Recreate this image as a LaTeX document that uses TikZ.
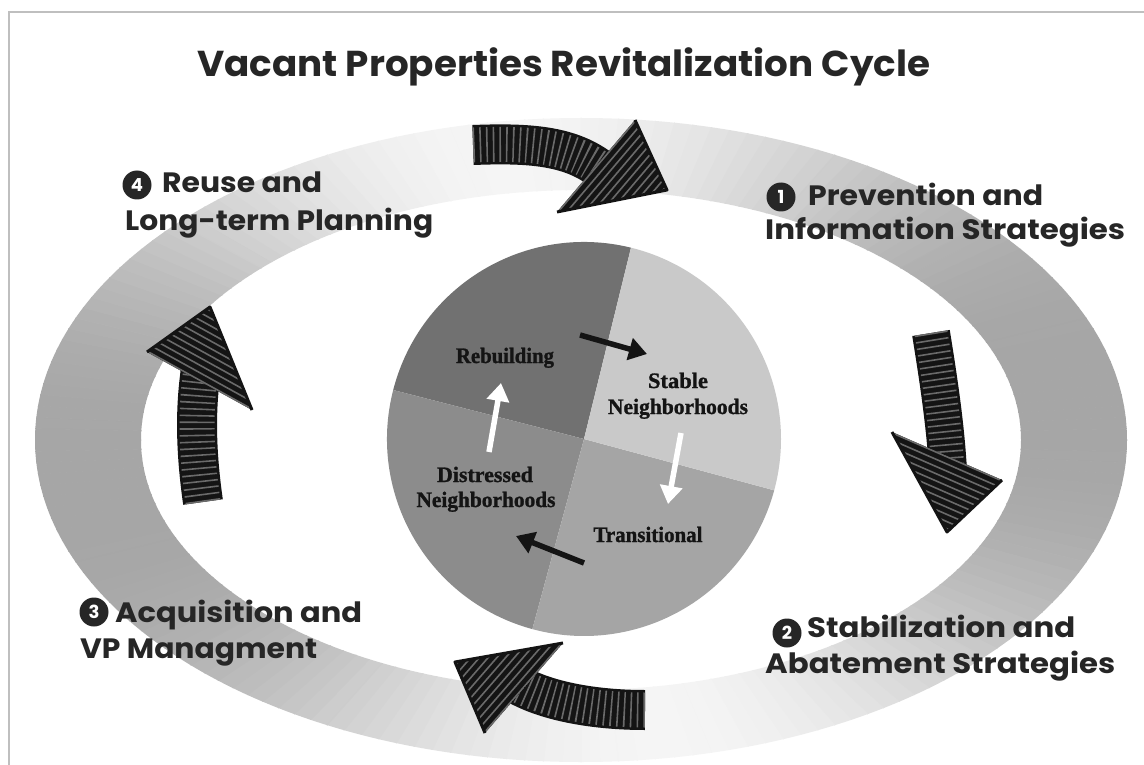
\documentclass[tikz,border=0pt]{standalone}
\usepackage{fontspec}
\usepackage{graphicx}
\usetikzlibrary{arrows.meta}
\newfontfamily\popfont{Poppins}
\newfontfamily\serfont{Liberation Serif}[BoldFeatures={FakeBold=1.2}]
\newcommand\fitw[2]{\resizebox{#1pt}{\height}{#2}}
\definecolor{txt}{HTML}{262626}
\definecolor{stripecol}{HTML}{6A6A6A}
\definecolor{qTL}{HTML}{717171}
\definecolor{qTR}{HTML}{C9C9C9}
\definecolor{qBR}{HTML}{A5A5A5}
\definecolor{qBL}{HTML}{8C8C8C}
\begin{document}
\begin{tikzpicture}[x=1pt,y=-1pt,
  lbl/.style={anchor=base west, inner sep=0pt, text=txt, font=\popfont\bfseries\fontsize{28}{30}\selectfont},
  numc/.style={circle, fill=txt, text=white, minimum size=29pt, inner sep=0pt, font=\popfont\bfseries\fontsize{18}{18}\selectfont},
  ctext/.style={anchor=base, inner sep=0pt, text=black!92, font=\serfont\bfseries\fontsize{22}{24}\selectfont},
  bodyblack/.style={draw=black!92},
  bodystripe/.style={draw=stripecol, dash pattern=on 1.6pt off 5pt},
  headstripe/.style={draw=stripecol, line width=200pt, dash pattern=on 1.6pt off 5pt},
  headline/.style={draw=black!92, line width=3pt, line join=round},
  smallarrow/.style={line width=5.5pt, -{Triangle[length=18pt,width=22pt]}}
]
\useasboundingbox (0,0) rectangle (1144,765);
\fill[white] (0,0) rectangle (1144,765);
% frame
\draw[black!25, line width=2.5pt] (9,765) -- (9,12) -- (1144,12);

% ring with angular gradient
\begin{scope}[even odd rule]
\clip (581,440) ellipse [x radius=546, y radius=322]
      (581,440) ellipse [x radius=440, y radius=250];
\foreach \t in {0,2,...,358}{
  \pgfmathsetmacro\g{0.65+0.31*abs(sin(-\t-10))^3}
  \definecolor{wc}{gray}{\g}
  \fill[wc, draw=wc, line width=0.8pt] (581,440) -- ({581+720*cos(\t)},{440+430*sin(\t)})
     -- ({581+720*cos(\t+2)},{440+430*sin(\t+2)}) -- cycle;
}
\end{scope}

% title
\node[anchor=base west, inner sep=0pt, text=txt, font=\popfont\bfseries\fontsize{36}{40}\selectfont] (title) at (197,77)
  {\fitw{733}{Vacant Properties Revitalization Cycle}};

% central circle
\coordinate (C) at (584,439);
\fill[qTL] (C) -- ++(-76.2:197) arc[start angle=-76.2, end angle=-165.6, radius=197] -- cycle;
\fill[qBL] (C) -- ++(-165.6:197) arc[start angle=-165.6, end angle=-254.8, radius=197] -- cycle;
\fill[qBR] (C) -- ++(-254.8:197) arc[start angle=-254.8, end angle=-344.9, radius=197] -- cycle;
\fill[qTR] (C) -- ++(-344.9:197) arc[start angle=-344.9, end angle=-436.2, radius=197] -- cycle;

\node[ctext] (reb) at (505,363) {\fitw{98}{Rebuilding}};
\node[ctext] (sta1) at (678,388) {\fitw{60}{Stable}};
\node[ctext] (sta2) at (678,414) {\fitw{140}{Neighborhoods}};
\node[ctext] (dis1) at (485,482) {\fitw{96}{Distressed}};
\node[ctext] (dis2) at (486,507) {\fitw{139}{Neighborhoods}};
\node[ctext] (tra) at (648,542) {\fitw{109}{Transitional}};

\coordinate (s1a) at (580,335); \coordinate (s1b) at (647,354);
\coordinate (s2a) at (681,433); \coordinate (s2b) at (668,504);
\coordinate (s3a) at (584,563); \coordinate (s3b) at (516,536);
\coordinate (s4a) at (489,452); \coordinate (s4b) at (501,383);
\draw[smallarrow, black!92] (s1a) -- (s1b);
\draw[smallarrow, white] (s2a) -- (s2b);
\draw[smallarrow, black!92] (s3a) -- (s3b);
\draw[smallarrow, white] (s4a) -- (s4b);

% ---- big striped arrows ----
% top
\coordinate (h1a) at (635,120); \coordinate (h1t) at (667,190); \coordinate (h1b) at (557,212);
\coordinate (b1s) at (473,145); \coordinate (b1e) at (596,166);
\draw[bodyblack, line width=40pt] (b1s) .. controls (525,143) and (565,145) .. (b1e) -- ++(16.6,11.2);
\draw[bodystripe, line width=35pt] (b1s) .. controls (525,143) and (565,145) .. (b1e) -- ++(16.6,11.2);
\fill[black!92] (h1a) -- (h1t) -- (h1b) -- cycle;
\begin{scope}\clip (h1a) -- (h1t) -- (h1b) -- cycle;
\draw[headstripe] (b1e) -- ++(0.763*110,0.647*110);\end{scope}
\draw[headline] (h1a) -- (h1t) -- (h1b);

% right
\coordinate (h2a) at (892,432); \coordinate (h2t) at (947,532); \coordinate (h2b) at (1002,480);
\coordinate (b2s) at (931,333); \coordinate (b2e) at (947,456);
\draw[bodyblack, line width=38pt] (b2s) .. controls (937,370) and (944,415) .. (b2e) -- ++(1.5,20);
\draw[bodystripe, line width=33pt] (b2s) .. controls (937,370) and (944,415) .. (b2e) -- ++(1.5,20);
\fill[black!92] (h2a) -- (h2t) -- (h2b) -- cycle;
\begin{scope}\clip (h2a) -- (h2t) -- (h2b) -- cycle;
\draw[headstripe] (b2e) -- ++(-0.4*110,0.917*110);\end{scope}
\draw[headline] (h2a) -- (h2t) -- (h2b);

% bottom
\coordinate (h3a) at (563,643); \coordinate (h3t) at (455,662); \coordinate (h3b) at (485,733);
\coordinate (b3s) at (645,710); \coordinate (b3e) at (524,688);
\draw[bodyblack, line width=40pt] (b3s) .. controls (600,710) and (555,703) .. (b3e) -- ++(-18,-8.7);
\draw[bodystripe, line width=35pt] (b3s) .. controls (600,710) and (555,703) .. (b3e) -- ++(-18,-8.7);
\fill[black!92] (h3a) -- (h3t) -- (h3b) -- cycle;
\begin{scope}\clip (h3a) -- (h3t) -- (h3b) -- cycle;
\draw[headstripe] (b3e) -- ++(-0.756*110,-0.655*110);\end{scope}
\draw[headline] (h3a) -- (h3t) -- (h3b);

% left
\coordinate (h4a) at (252,410); \coordinate (h4t) at (210,307); \coordinate (h4b) at (147,352);
\coordinate (b4s) at (203,502); \coordinate (b4e) at (199.5,381);
\draw[bodyblack, line width=40pt] (b4s) .. controls (197,460) and (195,420) .. (b4e) -- ++(2.3,-19.9);
\draw[bodystripe, line width=35pt] (b4s) .. controls (197,460) and (195,420) .. (b4e) -- ++(2.3,-19.9);
\fill[black!92] (h4a) -- (h4t) -- (h4b) -- cycle;
\begin{scope}\clip (h4a) -- (h4t) -- (h4b) -- cycle;
\draw[headstripe] (b4e) -- ++(0.483*110,-0.875*110);\end{scope}
\draw[headline] (h4a) -- (h4t) -- (h4b);

% ---- labels ----
\node[numc] (n4) at (137,185) {4};
\node[lbl] (l4a) at (162,193) {\fitw{160}{Reuse and}};
\node[lbl] (l4b) at (125,230) {\fitw{308}{Long-term Planning}};

\node[numc] (n1) at (781,197) {1};
\node[lbl] (l1a) at (808,205) {\fitw{235}{Prevention and}};
\node[lbl] (l1b) at (765,240) {\fitw{360}{Information Strategies}};

\node[numc] (n3) at (94,612) {3};
\node[lbl] (l3a) at (115,622) {\fitw{247}{Acquisition and}};
\node[lbl] (l3b) at (80,658) {\fitw{237}{VP Managment}};

\node[numc] (n2) at (787,633) {2};
\node[lbl] (l2a) at (807,637) {\fitw{268}{Stabilization and}};
\node[lbl] (l2b) at (765,673) {\fitw{350}{Abatement Strategies}};
\end{tikzpicture}
\end{document}
